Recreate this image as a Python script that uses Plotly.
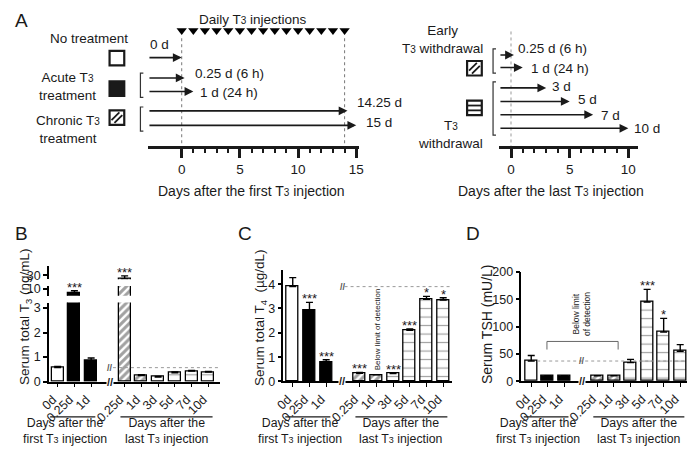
import plotly.graph_objects as go

# The page keeps the browser's default 8px body margin, so the figure is drawn
# 8px in from the window edge: all positions below are given in window pixels.
W, H = 684, 440
OFF = 8
def px(x): return (x - OFF) / W
def py(y): return 1 - (y - OFF) / H

FONT = "Liberation Sans, Arial, sans-serif"
INK = "#1a1a1a"
S3 = "<span style='font-size:10px'>3</span>"
S3s = "<span style='font-size:9px'>3</span>"

# ---------------- data ----------------
categories = ["0d", "0.25d", "1d", "0.25d", "1d", "3d", "5d", "7d", "10d"]
treatment = ["none", "acute", "acute", "chronic", "chronic",
             "withdrawal", "withdrawal", "withdrawal", "withdrawal"]

t3_mean = [0.57, 7.5, 0.84, 21.0, 0.25, 0.19, 0.36, 0.43, 0.39]
t3_err = [0.05, 1.5, 0.12, 8.0, 0.03, 0.02, 0.03, 0.03, 0.03]
t3_sig = ["", "***", "", "***", "", "", "", "", ""]

t4_mean = [3.9, 2.93, 0.78, 0.34, 0.27, 0.32, 2.1, 3.38, 3.35]
t4_err = [0.37, 0.32, 0.11, 0.03, 0.0, 0.04, 0.06, 0.12, 0.09]
t4_sig = ["", "***", "***", "***", "", "***", "***", "*", "*"]

tsh_mean = [37, 10, 10, 10, 10, 34, 145, 90, 55]
tsh_err = [10, 0, 0, 0, 0, 6, 23, 25, 12]
tsh_sig = ["", "", "", "", "", "", "***", "*", ""]

injection_days = list(range(15))
first_arrow_days = [0, 0.25, 1, 14.25, 15]
first_arrow_labels = ["0 d", "0.25 d (6 h)", "1 d (24 h)", "14.25 d", "15 d"]
last_arrow_days = [0.25, 1, 3, 5, 7, 10]
last_arrow_labels = ["0.25 d (6 h)", "1 d (24 h)", "3 d", "5 d", "7 d", "10 d"]

# ---------------- layout helpers ----------------
pos = list(range(3)) + list(range(4, 10))   # slot 3 is the axis break

style = {
    "none": dict(color="white", shape="", size=6, sol=0.3, fg="black"),
    "acute": dict(color="black", shape="", size=6, sol=0.3, fg="black"),
    "chronic": dict(color="white", shape="/", size=5.5, sol=0.55, fg="black"),
    "withdrawal": dict(color="white", shape="-", size=8.5, sol=0.14, fg="#333"),
}

def bar_trace(xa, ya, mean, err):
    return go.Bar(
        x=pos, y=mean, xaxis=xa, yaxis=ya, width=0.72,
        marker=dict(
            color=[style[t]["color"] for t in treatment],
            line=dict(color="black", width=1.3),
            pattern=dict(shape=[style[t]["shape"] for t in treatment],
                         size=[style[t]["size"] for t in treatment],
                         solidity=[style[t]["sol"] for t in treatment],
                         fgcolor=[style[t]["fg"] for t in treatment],
                         bgcolor="white"),
        ),
        error_y=dict(type="data", symmetric=False, array=err,
                     arrayminus=[0] * len(err), color="black",
                     thickness=1.4, width=3.5),
        showlegend=False, hoverinfo="skip",
    )

fig = go.Figure()

# ---------------- panel A ----------------
A_TOP, A_AXIS = 8, 143.5          # window-pixel rows used as the A y-scale
A_ROW_Y = 24
fig.add_trace(go.Scatter(x=injection_days, y=[A_ROW_Y] * len(injection_days),
                         xaxis="x", yaxis="y", mode="markers",
                         marker=dict(symbol="triangle-down", size=9, color="black"),
                         showlegend=False, hoverinfo="skip"))
fig.add_trace(go.Scatter(x=last_arrow_days, y=[60] * len(last_arrow_days),
                         xaxis="x2", yaxis="y", mode="markers",
                         marker=dict(size=1, color="rgba(0,0,0,0)"),
                         showlegend=False, hoverinfo="skip"))

# bars B (three segments), C, D
fig.add_trace(bar_trace("x3", "y3", t3_mean, t3_err))
fig.add_trace(bar_trace("x3", "y4", t3_mean, t3_err))
fig.add_trace(bar_trace("x3", "y5", t3_mean, t3_err))
fig.add_trace(bar_trace("x4", "y6", t4_mean, t4_err))
fig.add_trace(bar_trace("x5", "y7", tsh_mean, tsh_err))

ann = []
shapes = []

def txt(x, y, text, size=13.5, xref="paper", yref="paper", xanchor="center",
        yanchor="middle", angle=0, color=INK, **kw):
    ann.append(dict(x=x, y=y, xref=xref, yref=yref, text=text, showarrow=False,
                    xanchor=xanchor, yanchor=yanchor, textangle=angle,
                    font=dict(family=FONT, size=size, color=color), **kw))

# arrows, left timeline
left_rows = [52, 73, 87, 107, 122]
left_lab = [("right", -11, 38), ("left", 8, 68), ("left", 5, 88),
            ("left", 7, 98), ("left", 8, 119)]
A_LEFT_START = -2.9
for d, lab, row, (xa, xs, ly) in zip(first_arrow_days, first_arrow_labels, left_rows, left_lab):
    ann.append(dict(x=d, y=row, xref="x", yref="y", ax=A_LEFT_START, ay=row,
                    axref="x", ayref="y", text="", showarrow=True, arrowhead=2,
                    arrowsize=1.1, arrowwidth=1.6, arrowcolor=INK, standoff=0))
    txt(d, ly, lab, xref="x", yref="y", xanchor=xa, xshift=xs)

right_rows = [49.3, 62.3, 83.3, 97.3, 111, 125]
right_lab = [(2, 42.7), (6, 63.3), (4, 81.7), (6, 95.7), (6, 111.7), (4, 125.7)]
A_RIGHT_START = -1.03
for d, lab, row, (xs, ly) in zip(last_arrow_days, last_arrow_labels, right_rows, right_lab):
    ann.append(dict(x=d, y=row, xref="x2", yref="y", ax=A_RIGHT_START, ay=row,
                    axref="x2", ayref="y", text="", showarrow=True, arrowhead=2,
                    arrowsize=1.1, arrowwidth=1.6, arrowcolor=INK, standoff=0))
    txt(d, ly, lab, xref="x2", yref="y", xanchor="left", xshift=xs)

# dashed guides in A
for d in [injection_days[0], injection_days[-1]]:
    shapes.append(dict(type="line", xref="x", yref="y", x0=d, x1=d, y0=32, y1=A_AXIS,
                       line=dict(color="#777", width=1, dash="dot")))
shapes.append(dict(type="line", xref="x2", yref="y", x0=0, x1=0, y0=25, y1=A_AXIS,
                   line=dict(color="#999", width=1, dash="dot")))

txt(px(249), py(12.5), f"Daily T{S3} injections", size=13.5)
txt(px(82), py(32), "No treatment")
txt(px(60), py(82), f"Acute T{S3}<br>treatment")
txt(px(60), py(126), f"Chronic T{S3}<br>treatment")
txt(px(442), py(33), f"Early<br>T{S3} withdrawal")
txt(px(451), py(131), f"T{S3}<br>withdrawal")
txt(px(247), py(190), f"Days after the first T{S3} injection", size=14)
txt(px(553), py(190), f"Days after the last T{S3} injection", size=14)

# icons
def icon(cx, cy, fill, kind):
    x0, x1, y0, y1 = px(cx - 7.5), px(cx + 7.5), py(cy + 7.5), py(cy - 7.5)
    shapes.append(dict(type="rect", xref="paper", yref="paper", x0=x0, x1=x1, y0=y0, y1=y1,
                       fillcolor=fill, line=dict(color=INK, width=2.2)))
    if kind == "diag":
        for a, b in [(2, 5), (5, 2)]:
            shapes.append(dict(type="line", xref="paper", yref="paper",
                               x0=px(cx - 7.5 + a), y0=py(cy + 7.5 - b),
                               x1=px(cx + 7.5 - b), y1=py(cy - 7.5 + a),
                               line=dict(color=INK, width=1.8)))
    if kind == "horiz":
        for dy in (-2.5, 2.5):
            shapes.append(dict(type="line", xref="paper", yref="paper",
                               x0=px(cx - 7.5), x1=px(cx + 7.5), y0=py(cy + dy), y1=py(cy + dy),
                               line=dict(color=INK, width=1.8)))

icon(110, 52.5, "white", "")
icon(110, 84, INK, "")
icon(110, 114, "white", "diag")
icon(475, 63, "white", "diag")
icon(475, 104, "white", "horiz")

def bracket(x, ya, yb):
    shapes.append(dict(type="path", xref="paper", yref="paper",
                       path=f"M {px(x+3)},{py(ya)} L {px(x)},{py(ya)} L {px(x)},{py(yb)} L {px(x+3)},{py(yb)}",
                       line=dict(color="#333", width=1.2)))

bracket(134, 68, 93)
bracket(134, 103, 128)
bracket(494, 43, 68)
bracket(494, 77, 132)

# panel letters
for letter, (lx, ly) in {"A": (13, 14), "B": (13, 234), "C": (241, 234), "D": (474, 234)}.items():
    txt(px(lx), py(ly), letter, size=19)

# y titles
txt(px(16), py(320), "Serum total T<sub>3</sub> (ng/mL)", size=13.5, angle=-90)
txt(px(256), py(320), "Serum total T<sub>4</sub>\u00a0 (µg/dL)", size=13.5, angle=-90)
txt(px(488), py(327), "Serum TSH (mU/L)", size=14, angle=-90)

# significance marks
def sig_marks(xa, mean, err, sig, yaxis_for):
    for p, m, e, s in zip(pos, mean, err, sig):
        if s:
            top = m + e
            txt(p, top, s, size=13, xref=xa, yref=yaxis_for(top), yanchor="bottom", yshift=-6)

B_LOW, B_MID, B_TOP = [0, 3.22], [6, 11.7], [20, 55]
sig_marks("x3", t3_mean, t3_err, t3_sig,
          lambda v: "y3" if v <= B_LOW[1] else ("y4" if v <= B_MID[1] else "y5"))
sig_marks("x4", t4_mean, t4_err, t4_sig, lambda v: "y6")
sig_marks("x5", tsh_mean, tsh_err, tsh_sig, lambda v: "y7")

# reference dashed lines + axis breaks
def ref_line(xa, ya, level, x0, x1):
    shapes.append(dict(type="line", xref=xa, yref=ya, x0=x0, x1=x1, y0=level, y1=level,
                       line=dict(color="#999", width=1, dash="dot")))

def brk(xa, ya, x, y, size=11, color=INK, bg=None):
    d = dict(x=x, y=y, xref=xa, yref=ya, text="<b>//</b>", showarrow=False,
             font=dict(family=FONT, size=size, color=color), borderpad=0)
    if bg:
        d["bgcolor"] = bg
    ann.append(d)

XB = [-0.515, 9.68]
XC = [-0.557, 9.55]
XD = [-0.59, 9.41]

ref_line("x3", "y3", t3_mean[0], 3.3, XB[1])
brk("x3", "y3", 3.15, t3_mean[0], size=9, color="#555")
brk("x3", "y3", 3.15, 0, bg="white")
ref_line("x4", "y6", t4_mean[0], 3.1, XC[1])
brk("x4", "y6", 3.0, t4_mean[0], size=9, color="#555")
brk("x4", "y6", 2.96, 0, bg="white")
ref_line("x5", "y7", tsh_mean[0], 0.36, XD[1])
brk("x5", "y7", 3.08, tsh_mean[0], size=9, color="#555")
brk("x5", "y7", 3.06, 0, bg="white")

# detection notes
txt(pos[4] + 0.05, 2.15, "Below limit of detection", size=8, xref="x4", yref="y6", angle=-90)
txt(3.04, 122, "Below limit<br>of detection", size=8.5, xref="x5", yref="y7", angle=-90)
shapes.append(dict(type="path", xref="x5", yref="y7",
                   path="M 0.95,58 L 0.95,72.8 L 5.25,72.8 L 5.25,58",
                   line=dict(color="#666", width=1)))

# group labels under bar panels
for xa in ["x3", "x4", "x5"]:
    for (a, b), cx, lab in [((-0.45, 2.25), 0.42, f"Days after the<br>first T{S3s} injection"),
                            ((3.75, 9.25), 6.5, f"Days after the<br>last T{S3s} injection")]:
        shapes.append(dict(type="line", xref=xa, yref="paper", x0=a, x1=b,
                           y0=py(423), y1=py(423), line=dict(color=INK, width=1.2)))
        txt(cx, py(437.5), lab, size=12.3, xref=xa)

# ---------------- axes ----------------
def yax(domain, rng, **kw):
    d = dict(domain=[py(domain[0]), py(domain[1])], range=rng, showline=True,
             linecolor="black", linewidth=1.5, ticks="outside", ticklen=4,
             tickwidth=1.5, tickcolor="black", showgrid=False, zeroline=False,
             tickfont=dict(family=FONT, size=12.5, color=INK), fixedrange=True)
    d.update(kw)
    return d

def xbar(domain, rng, anchor):
    return dict(domain=[px(domain[0]), min(1, px(domain[1]))], range=rng, anchor=anchor,
                showline=True, linecolor="black", linewidth=1.5, ticks="outside",
                ticklen=4, tickwidth=1.2, tickcolor="black", tickmode="array",
                tickvals=pos, ticktext=categories, tickangle=-45, showgrid=False,
                zeroline=False, tickfont=dict(family=FONT, size=12.5, color=INK),
                ticklabelshift=-5, fixedrange=True)

def xtime(domain, rng, major, minor):
    return dict(domain=[px(domain[0]), px(domain[1])], range=rng, anchor="y",
                showline=True, linecolor=INK, linewidth=2.6, ticks="outside",
                ticklen=9, tickwidth=2.6, tickcolor=INK, tickmode="array",
                tickvals=major, showgrid=False, zeroline=False,
                tickfont=dict(family=FONT, size=13.5, color=INK), fixedrange=True,
                minor=dict(tickmode="array", tickvals=minor, ticks="outside",
                           ticklen=4, tickwidth=2, tickcolor=INK))

fig.update_layout(
    width=W, height=H, margin=dict(l=0, r=0, t=0, b=0),
    paper_bgcolor="white", plot_bgcolor="rgba(0,0,0,0)",
    bargap=0, barmode="overlay",
    font=dict(family=FONT, color=INK),
    xaxis=xtime((141.7, 356.7), [-2.9, 15.2], [0, 5, 10, 15], list(range(0, 16))),
    xaxis2=xtime((500, 641.7), [-1.03, 10.8], [0, 5, 10], list(range(0, 11))),
    yaxis=dict(domain=[py(A_AXIS), 1], range=[A_AXIS, A_TOP], visible=False, fixedrange=True),
    xaxis3=xbar((40.7, 215), XB, "y3"),
    yaxis3=yax((386.7, 305), B_LOW, anchor="x3", tickvals=[0, 1, 2, 3]),
    yaxis4=yax((298, 288), B_MID, anchor="x3", tickvals=[10]),
    yaxis5=yax((281, 267), B_TOP, anchor="x3", tickvals=[30]),
    xaxis4=xbar((280, 452.5), XC, "y6"),
    yaxis6=yax((386.5, 271.7), [0, 4.57], anchor="x4", tickvals=[0, 1, 2, 3, 4]),
    xaxis5=xbar((523, 692), XD, "y7"),
    yaxis7=yax((386.3, 273.3), [0, 200], anchor="x5", tickvals=[0, 50, 100, 150, 200]),
    annotations=ann, shapes=shapes,
)

fig.write_html("out.html", config={"displayModeBar": False})
